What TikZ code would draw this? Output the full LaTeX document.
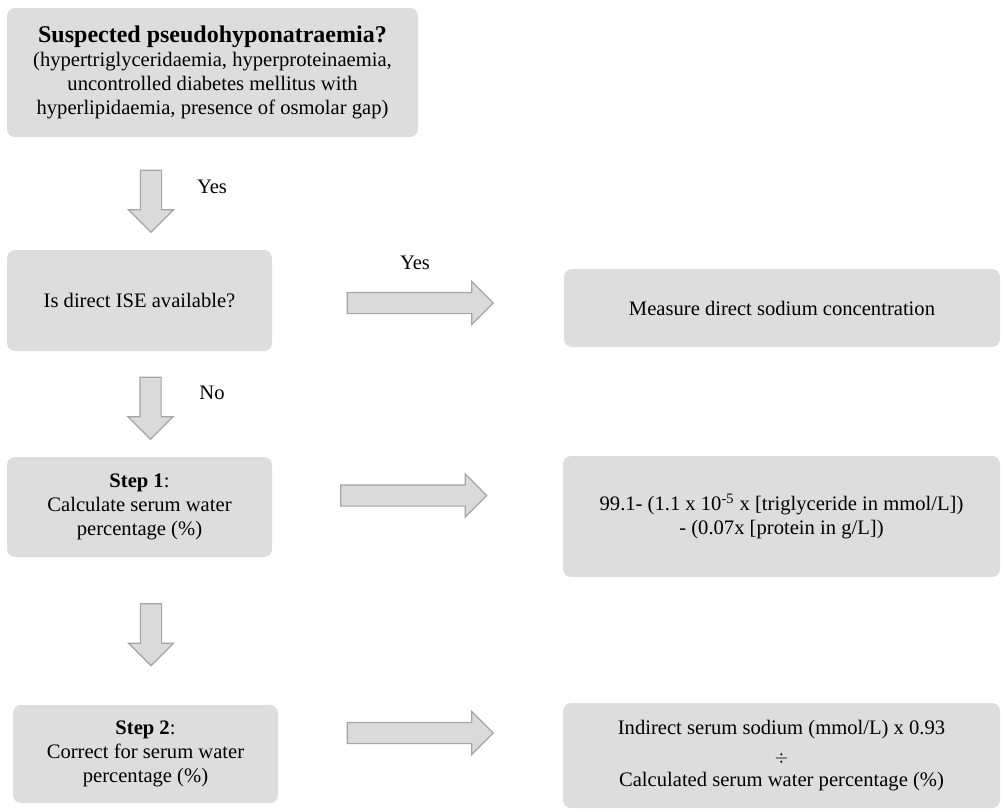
\documentclass[tikz,border=0pt]{standalone}
\usepackage{fontspec}
\setmainfont{Liberation Serif}
\usepackage{tikz}
\usetikzlibrary{shapes.arrows}
\definecolor{boxgray}{RGB}{221,221,221}
\definecolor{arrowfill}{RGB}{218,218,218}
\definecolor{arrowline}{RGB}{165,165,165}

\begin{document}
\begin{tikzpicture}[x=0.5pt,y=-0.5pt,
  font=\fontsize{10.3}{12}\selectfont,
  flowbox/.style={fill=boxgray,rounded corners=4pt,align=center,inner sep=0pt},
  downarrow/.style={single arrow,draw=arrowline,fill=arrowfill,line width=0.6pt,
    rotate=-90,inner xsep=0pt,inner ysep=5pt,minimum width=22pt,
    single arrow head extend=6pt,minimum height=31pt},
  rightarrow/.style={single arrow,draw=arrowline,fill=arrowfill,line width=0.6pt,
    inner xsep=0pt,inner ysep=5pt,minimum width=21pt,
    single arrow head extend=5.5pt,minimum height=73pt}]
\useasboundingbox (0,0) rectangle (1001,810);
% left column
\node[flowbox,minimum width=205.5pt,minimum height=64.5pt] (suspect) at (212.5,72.5)
  {{\fontsize{12}{14}\selectfont\textbf{Suspected pseudohyponatraemia?}}\\(hypertriglyceridaemia, hyperproteinaemia,\\uncontrolled diabetes mellitus with\\hyperlipidaemia, presence of osmolar gap)};
\node[flowbox,minimum width=132.5pt,minimum height=50.5pt] (ise) at (139.5,300.5) {Is direct ISE available?};
\node[flowbox,minimum width=132.5pt,minimum height=50pt] (step1) at (139.5,507)
  {\textbf{Step 1}:\\Calculate serum water\\percentage (\%)};
\node[flowbox,minimum width=132.5pt,minimum height=49pt] (step2) at (145.5,754)
  {\textbf{Step 2}:\\Correct for serum water\\percentage (\%)};
% right column
\node[flowbox,minimum width=218pt,minimum height=39pt] (direct) at (782,308) {Measure direct sodium concentration};
\node[flowbox,minimum width=218.5pt,minimum height=60.5pt] (water) at (781.5,516.5)
  {99.1- (1.1 x 10\textsuperscript{-5} x [triglyceride in mmol/L])\\- (0.07x [protein in g/L])};
\node[flowbox,minimum width=218.5pt,minimum height=52.5pt] (corrected) at (781.5,755.5)
  {Indirect serum sodium (mmol/L) x 0.93\\[2pt]{\footnotesize$\div$}\\Calculated serum water percentage (\%)};
% block arrows
\node[downarrow] (down1) at (151,196) {};
\node[downarrow] (down2) at (150.5,403) {};
\node[downarrow] (down3) at (151,629.5) {};
\node[rightarrow] (right1) at (415,303) {};
\node[rightarrow] (right2) at (408.5,495.5) {};
\node[rightarrow] (right3) at (415,733) {};
% labels
\node (yesdown) at (212,187) {Yes};
\node (yesright) at (415,263) {Yes};
\node (no) at (212,393) {No};
\end{tikzpicture}
\end{document}
